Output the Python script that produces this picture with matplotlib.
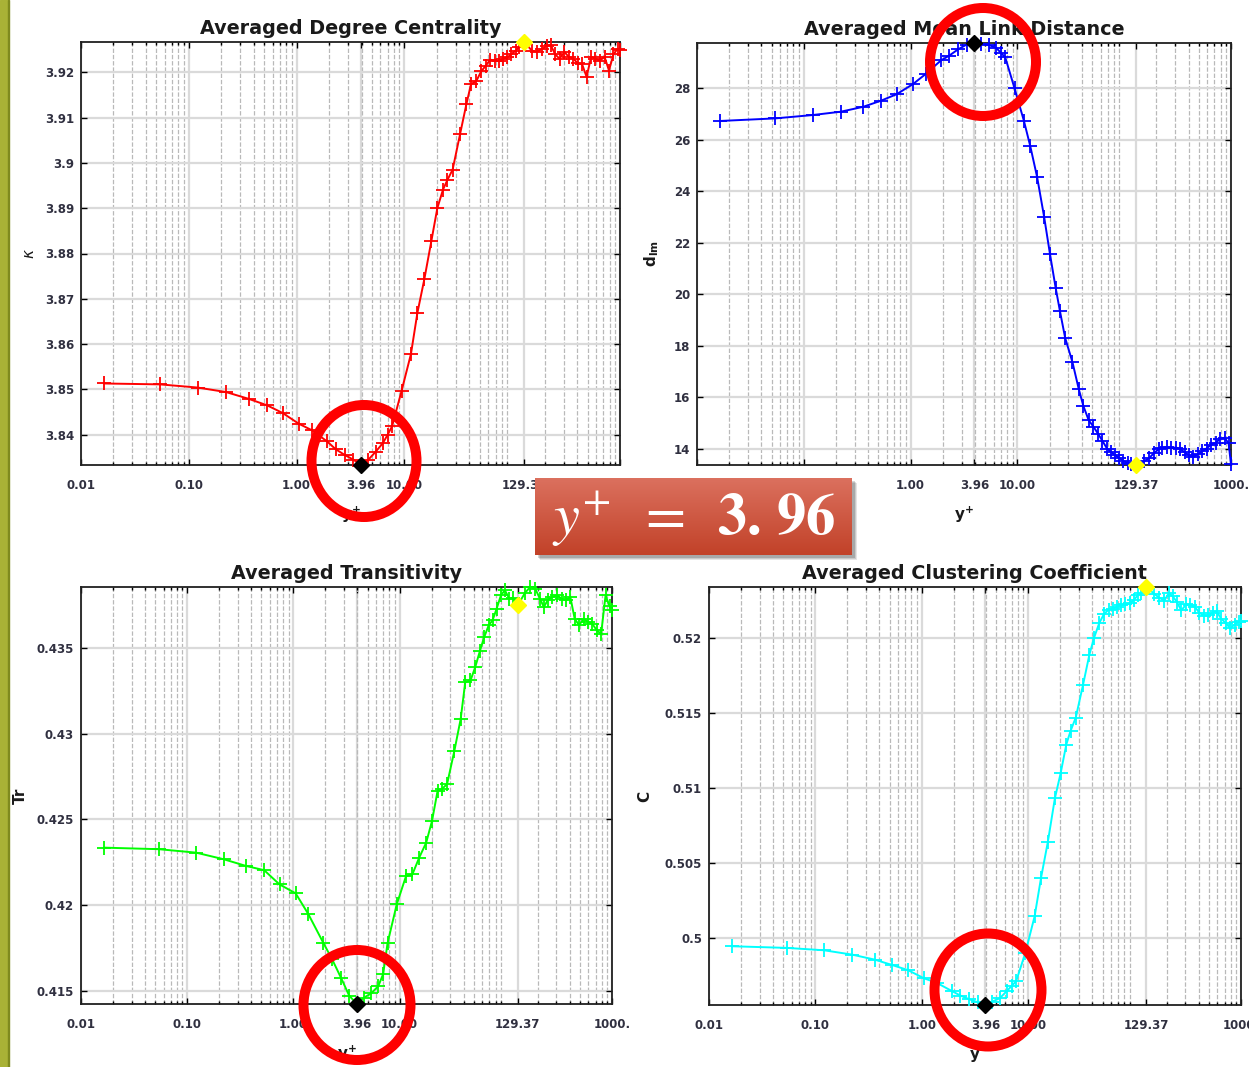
import numpy as np
import matplotlib
matplotlib.use("Agg")
import matplotlib.pyplot as plt
from matplotlib.patches import Ellipse, Rectangle
from matplotlib.ticker import FixedLocator, LogLocator, NullFormatter

plt.rcParams["mathtext.fontset"] = "dejavusans"

# wall distance y+ of the sampled planes
yplus = [0.0165, 0.054, 0.121, 0.222, 0.36, 0.53, 0.74, 1.05,
         1.38, 1.92, 2.3, 2.8, 3.35, 3.96, 4.6, 5.4,
         6.3, 7.0, 7.7, 9.4, 11.5, 13.2, 15.3, 17.8,
         20.2, 22.8, 25.0, 28.0, 32.8, 37.6, 41.5, 46.5,
         51.5, 57.0, 62.5, 69.0, 75.0, 82.0, 90.0, 98.0,
         108.0, 116.0, 129.37, 152.0, 170.0, 190.0, 210.0, 228.0,
         250.0, 275.0, 305.0, 335.0, 370.0, 405.0, 445.0, 490.0,
         540.0, 590.0, 650.0, 720.0, 790.0, 870.0, 950.0, 1000.0]

kappa = [3.8513, 3.8511, 3.8504, 3.8494, 3.8479, 3.8465, 3.8448, 3.8424,
         3.8410, 3.8385, 3.8368, 3.8355, 3.8345, 3.8333, 3.8344, 3.8362,
         3.8381, 3.8400, 3.8419, 3.8496, 3.8578, 3.8669, 3.8743, 3.8828,
         3.8900, 3.8941, 3.8962, 3.8985, 3.9063, 3.9130, 3.9174, 3.9181,
         3.9202, 3.9215, 3.9228, 3.9226, 3.9225, 3.9230, 3.9233, 3.9240,
         3.9248, 3.9256, 3.9267, 3.9248, 3.9245, 3.9252, 3.9258, 3.9260,
         3.9240, 3.9230, 3.9245, 3.9234, 3.9230, 3.9220, 3.9218, 3.9190,
         3.9234, 3.9230, 3.9226, 3.9234, 3.9204, 3.9240, 3.9252, 3.9250]

dlm = [26.73, 26.83, 26.96, 27.09, 27.28, 27.52, 27.77, 28.16,
       28.55, 29.08, 29.27, 29.52, 29.70, 29.76, 29.73, 29.68,
       29.58, 29.38, 29.20, 28.00, 26.74, 25.75, 24.55, 23.00,
       21.55, 20.25, 19.35, 18.30, 17.35, 16.30, 15.65, 15.10,
       14.85, 14.57, 14.30, 14.00, 13.87, 13.75, 13.63, 13.52,
       13.44, 13.40, 13.36, 13.50, 13.62, 13.82, 13.97, 14.02,
       14.06, 14.02, 14.04, 13.98, 13.85, 13.74, 13.67, 13.78,
       13.90, 14.00, 14.15, 14.22, 14.38, 14.42, 14.20, 13.38]

trans = [0.42336, 0.42327, 0.42307, 0.42268, 0.42229, 0.42205, 0.42122, 0.42070,
         0.41950, 0.41780, 0.41690, 0.41580, 0.41475, 0.41426, 0.41462, 0.41488,
         0.41530, 0.41600, 0.41780, 0.42006, 0.42171, 0.42181, 0.42278, 0.42365,
         0.42492, 0.42667, 0.42677, 0.42706, 0.42900, 0.43085, 0.43299, 0.43309,
         0.43386, 0.43480, 0.43560, 0.43630, 0.43659, 0.43727, 0.43805, 0.43834,
         0.43785, 0.43790, 0.43746, 0.43820, 0.43853, 0.43840, 0.43785, 0.43736,
         0.43780, 0.43795, 0.43805, 0.43785, 0.43775, 0.43795, 0.43669, 0.43630,
         0.43669, 0.43650, 0.43640, 0.43600, 0.43581, 0.43805, 0.43740, 0.43717]

clust = [0.49944, 0.49933, 0.49917, 0.49888, 0.49855, 0.49818, 0.49785, 0.49730,
         0.49700, 0.49645, 0.49615, 0.49590, 0.49570, 0.49552, 0.49575, 0.49597,
         0.49645, 0.49680, 0.49710, 0.49900, 0.50145, 0.50400, 0.50640, 0.50930,
         0.51100, 0.51290, 0.51380, 0.51470, 0.51690, 0.51890, 0.52000, 0.52100,
         0.52160, 0.52190, 0.52196, 0.52210, 0.52220, 0.52225, 0.52232, 0.52252,
         0.52290, 0.52300, 0.52341, 0.52297, 0.52270, 0.52250, 0.52300, 0.52280,
         0.52240, 0.52185, 0.52225, 0.52220, 0.52207, 0.52170, 0.52150, 0.52151,
         0.52170, 0.52180, 0.52130, 0.52100, 0.52065, 0.52090, 0.52106, 0.52117]

xticks = [0.01, 0.1, 1.0, 3.96, 10.0, 129.37, 1000.0]
xticklabels = ["0.01", "0.10", "1.00", "3.96", "10.00", "129.37", "1000."]

y_opt = 3.96       # black marker
y_outer = 129.37   # yellow marker

W, H = 1249, 1067
fig = plt.figure(figsize=(W / 100, H / 100), dpi=100)


def frect(x0, y0, x1, y1):
    # pixel box (origin top-left) -> figure fraction rect
    return [x0 / W, 1 - y1 / H, (x1 - x0) / W, (y1 - y0) / H]


panels = [
    dict(rect=(81, 42, 620, 465), vals=kappa, color="#ff0000",
         title="Averaged Degree Centrality", ylabel=r"$\kappa$", ylab_x=30,
         xlabel=r"$\mathbf{y}^{\mathbf{+}}$",
         yticks=[3.84, 3.85, 3.86, 3.87, 3.88, 3.89, 3.90, 3.91, 3.92],
         ylabels=["3.84", "3.85", "3.86", "3.87", "3.88", "3.89", "3.9", "3.91", "3.92"]),
    dict(rect=(697, 43, 1231, 465), vals=dlm, color="#0000ff",
         title="Averaged Mean Link Distance", ylabel=r"$\mathbf{d}_{\mathbf{lm}}$", ylab_x=652,
         xlabel=r"$\mathbf{y}^{\mathbf{+}}$",
         yticks=[14, 16, 18, 20, 22, 24, 26, 28],
         ylabels=["14", "16", "18", "20", "22", "24", "26", "28"]),
    dict(rect=(81, 587, 612, 1004), vals=trans, color="#00ff00",
         title="Averaged Transitivity", ylabel="Tr", ylab_x=20,
         xlabel=r"$\mathbf{y}^{\mathbf{+}}$",
         yticks=[0.415, 0.42, 0.425, 0.43, 0.435],
         ylabels=["0.415", "0.42", "0.425", "0.43", "0.435"]),
    dict(rect=(709, 587, 1241, 1005), vals=clust, color="#00ffff",
         title="Averaged Clustering Coefficient", ylabel="C", ylab_x=645,
         xlabel="y",
         yticks=[0.5, 0.505, 0.51, 0.515, 0.52],
         ylabels=["0.5", "0.505", "0.51", "0.515", "0.52"]),
]

i_opt = yplus.index(y_opt)
i_outer = yplus.index(y_outer)

for p in panels:
    x0, y0, x1, y1 = p["rect"]
    ax = fig.add_axes(frect(x0, y0, x1, y1))
    ax.set_xscale("log")
    ax.set_xlim(0.01, 1000)
    vals = p["vals"]
    ax.set_ylim(min(vals), max(vals))

    ax.plot(yplus, vals, color=p["color"], lw=1.4, marker="+", ms=10.5, mew=1.3,
            clip_on=False, zorder=3)
    ax.plot(yplus[i_opt], vals[i_opt], marker="D", ms=8.5, color="black",
            clip_on=False, zorder=4)
    ax.plot(yplus[i_outer], vals[i_outer], marker="D", ms=8.5, color="#ffff00",
            mec="#ffff00", clip_on=False, zorder=4)

    ax.xaxis.set_major_locator(FixedLocator(xticks))
    ax.set_xticklabels(xticklabels)
    ax.xaxis.set_minor_locator(LogLocator(base=10, subs=np.arange(2, 10), numticks=20))
    ax.xaxis.set_minor_formatter(NullFormatter())
    ax.set_yticks(p["yticks"])
    ax.set_yticklabels(p["ylabels"])

    ax.grid(which="major", color="#dadada", lw=1.6, ls="-", zorder=0)
    ax.grid(which="minor", axis="x", color="#b9b9b9", lw=0.9, ls=(0, (3.5, 1.5)), zorder=0)
    ax.set_axisbelow(True)

    ax.tick_params(which="both", direction="in", top=True, right=True,
                   labelsize=8.5, labelcolor="#303040", width=1.0)
    ax.tick_params(which="major", length=4)
    ax.tick_params(which="minor", length=2.5)
    ax.tick_params(axis="x", pad=10)
    ax.tick_params(axis="y", pad=5)
    for lab in ax.get_xticklabels() + ax.get_yticklabels():
        lab.set_fontweight("bold")
    for s in ax.spines.values():
        s.set_linewidth(1.3)
        s.set_color("#202020")

    ax.set_title(p["title"], fontsize=13.8, fontweight="bold", color="#1a1a1a", pad=6)
    ax.set_xlabel(p["xlabel"], fontsize=11, fontweight="bold", color="#1a1a1a")
    ax.xaxis.set_label_coords(0.5, -50 / (y1 - y0))
    ax.xaxis.label.set_verticalalignment("center")
    ax.set_ylabel(p["ylabel"], fontsize=11, fontweight="bold", color="#1a1a1a")
    ax.yaxis.set_label_coords((p["ylab_x"] - x0) / (x1 - x0), 0.5)
    ax.yaxis.label.set_verticalalignment("center")

# olive border on the left
fig.add_artist(Rectangle((0, 0), 8 / W, 1, transform=fig.transFigure,
                         color="#a9b236", zorder=5))
fig.add_artist(Rectangle((8 / W, 0), 1.5 / W, 1, transform=fig.transFigure,
                         color="#7f8a1e", zorder=5))

# highlight rings around the y+ = 3.96 points
rings = [(364, 461, 105, 112), (983, 62, 106, 108), (357, 1005, 107, 110), (988, 990, 107, 113)]
for cx, cy, w, h in rings:
    fig.add_artist(Ellipse((cx / W, 1 - cy / H), w / W, h / H, transform=fig.transFigure,
                           fill=False, ec="#ff0000", lw=7.2, zorder=12))

# label box with gradient and drop shadow
for k, a in enumerate([0.10, 0.12, 0.16]):
    d = 5 - k
    fig.add_artist(Rectangle(((535 + d) / W, 1 - (555 + d) / H), 317 / W, 77 / H,
                             transform=fig.transFigure, color="black", alpha=a, lw=0, zorder=9))
bax = fig.add_axes(frect(535, 478, 852, 555), zorder=10)
top = np.array([0xdb, 0x70, 0x5e]) / 255
bot = np.array([0xc2, 0x42, 0x29]) / 255
t = np.linspace(0, 1, 64)[:, None]
grad = (top[None, :] * (1 - t) + bot[None, :] * t)[:, None, :]
bax.imshow(grad, aspect="auto", extent=[0, 1, 0, 1])
bax.set_xlim(0, 1)
bax.set_ylim(0, 1)
bax.axis("off")
bax.text(0.5, 0.47, r"$\mathit{y}^{+}\;\;=\;\;\mathbf{3.\,96}$", transform=bax.transAxes,
         ha="center", va="center", color="white", fontsize=42,
         math_fontfamily="stix")

fig.savefig("out.png", dpi=100)
